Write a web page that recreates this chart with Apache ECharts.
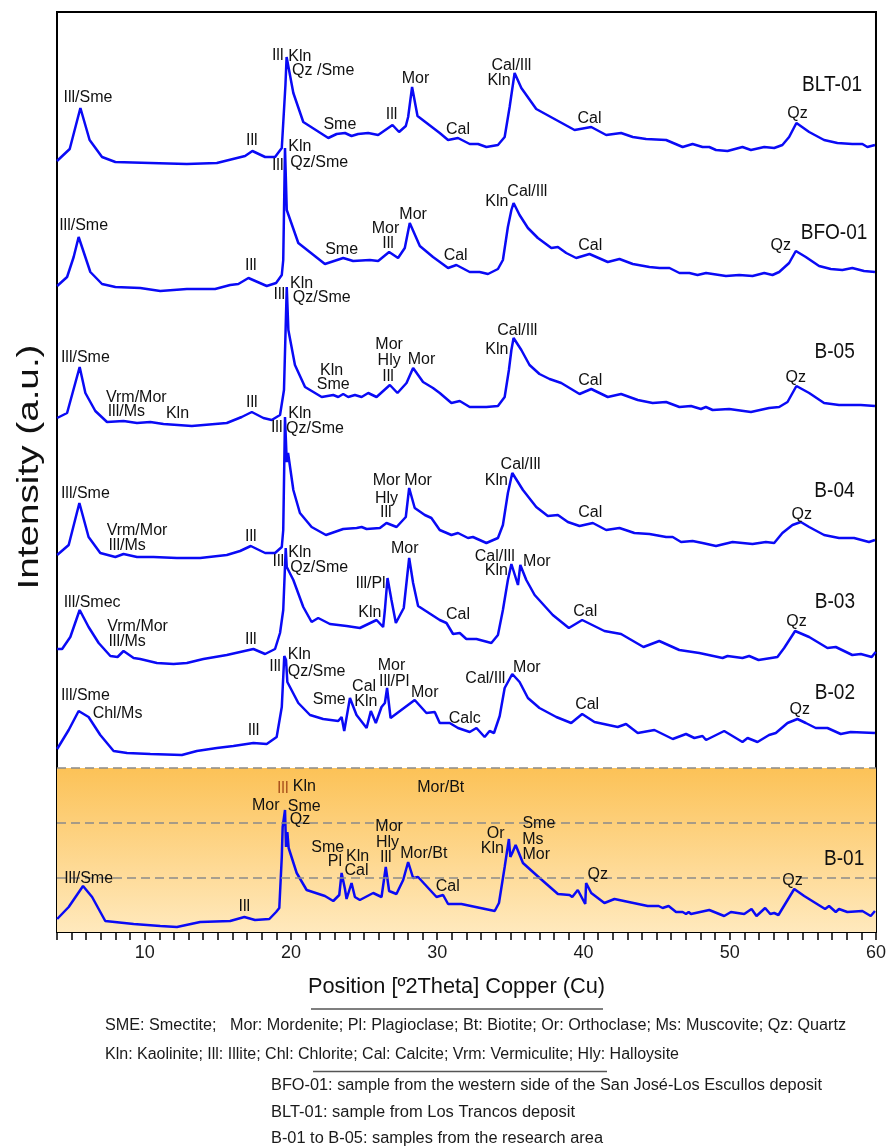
<!DOCTYPE html>
<html><head><meta charset="utf-8">
<script src="https://cdn.jsdelivr.net/npm/echarts@6/dist/echarts.min.js"></script>
<style>html,body{margin:0;padding:0;background:#fff}#c{width:889px;height:1148px}</style>
</head><body><div id="c"></div>
<script>
// ---- data: [2theta, relative intensity] ----
const samples = ['BLT-01','BFO-01','B-05','B-04','B-03','B-02','B-01'];
const offsets = [767, 641, 506, 373, 268, 176, 5];

const BLT01 = [[4.0,4],[4.87,16],[5.6,57],[6.23,25],[7.08,8],[7.99,3],[10.38,2],[12.88,1],[14.93,2],[16.86,9],[17.36,14],[18.23,8],[18.91,8],[19.37,17],[19.47,17],[19.62,80],[19.7,108],[20.16,72],[20.84,43],[22.55,27],[23.12,31],[23.69,32],[24.14,29],[24.59,31],[25.28,32],[25.96,30],[26.94,40],[27.39,33],[27.85,39],[28.01,48],[28.28,78],[28.65,49],[30.17,32],[30.74,25],[31.42,27],[32.22,21],[32.79,21],[33.36,18],[34.15,20],[34.61,28],[34.95,58],[35.29,92],[35.75,77],[36.77,56],[38.14,45],[39.39,35],[40.53,38],[41.55,30],[42.57,32],[43.37,28],[44.28,26],[45.65,25],[46.78,18],[47.46,21],[48.14,18],[48.6,18],[49.06,15],[49.85,14],[50.87,18],[51.45,15],[52.36,18],[53.04,17],[53.6,20],[54.06,28],[54.56,42],[55.43,33],[56.45,25],[57.36,22],[58.38,21],[59.07,21],[59.41,18],[59.93,20]];

const BFO01 = [[4.01,5],[4.69,14],[5.14,34],[5.48,54],[6.28,19],[7.08,7],[7.99,4],[9.69,3],[11.06,0],[12.88,2],[14.81,2],[15.84,6],[16.4,7],[17.09,13],[18.34,5],[18.98,8],[19.37,16],[19.47,31],[19.59,143],[19.71,81],[20.5,48],[22.32,27],[23.57,33],[24.25,30],[25.39,31],[25.96,30],[26.71,39],[27.32,33],[27.78,43],[28.12,68],[28.81,45],[29.71,34],[30.74,23],[31.31,26],[32.22,19],[32.9,19],[33.47,17],[34.15,22],[34.49,31],[34.83,64],[35.07,81],[35.22,88],[35.63,76],[36.2,63],[36.88,53],[37.8,43],[38.25,44],[38.82,38],[39.5,33],[40.41,37],[41.66,29],[42.46,32],[43.37,27],[44.51,24],[45.2,23],[45.88,23],[46.56,18],[47.24,18],[47.8,16],[48.38,18],[49.74,15],[50.65,16],[51.56,15],[52.36,18],[52.92,16],[53.38,19],[54.06,28],[54.52,40],[55.2,34],[56.11,25],[56.91,22],[57.7,21],[58.38,23],[59.18,20],[59.93,19]];

const B05 = [[4.01,8],[4.69,13],[5.55,59],[5.94,33],[6.62,15],[7.42,4],[8.55,5],[9.47,3],[10.38,4],[11.28,2],[13.22,0],[15.61,3],[16.63,9],[17.32,14],[18.11,8],[18.68,6],[19.25,11],[19.52,36],[19.71,139],[19.82,96],[20.27,61],[20.96,39],[22.1,29],[22.89,31],[23.23,29],[23.57,32],[23.91,29],[24.37,31],[24.83,29],[25.28,33],[25.85,29],[26.76,41],[27.28,33],[27.9,43],[28.35,58],[29.03,44],[29.71,38],[30.17,33],[30.97,23],[31.54,25],[32.22,19],[33.36,19],[34.15,20],[34.61,29],[34.9,56],[35.07,76],[35.22,88],[35.75,76],[36.31,61],[36.99,52],[37.68,47],[38.48,43],[39.73,32],[40.53,37],[41.66,29],[42.57,32],[43.71,26],[44.73,23],[45.65,24],[46.56,19],[47.35,20],[48.03,17],[48.37,19],[48.83,16],[49.96,17],[51.45,14],[52.69,18],[53.38,19],[53.95,24],[54.56,40],[55.43,33],[56.45,23],[57.47,21],[58.96,21],[59.93,20]];

const B04 = [[4.01,4],[4.8,14],[5.53,56],[6.16,22],[6.96,6],[7.99,2],[8.55,5],[9.47,2],[10.6,2],[12.2,1],[13.79,1],[15.61,4],[16.52,8],[17.25,13],[18.23,6],[18.91,6],[19.37,12],[19.47,29],[19.59,142],[19.64,142],[19.71,97],[19.8,106],[20.16,69],[20.61,46],[21.41,32],[22.39,24],[23.57,30],[24.49,31],[24.83,32],[25.17,30],[26.08,31],[26.53,36],[27.22,32],[27.85,42],[28.08,71],[28.46,51],[29.15,44],[29.6,41],[30.17,29],[30.97,24],[31.42,26],[32.1,21],[32.44,22],[33.36,16],[34.15,21],[34.49,34],[34.83,66],[35.13,86],[35.86,69],[36.77,52],[37.56,43],[38.25,44],[38.93,37],[39.73,33],[40.64,36],[41.55,29],[42.46,31],[43.48,26],[44.51,25],[45.65,22],[46.1,22],[46.67,17],[47.46,18],[48.14,16],[49.06,13],[50.19,17],[51.56,15],[52.47,17],[53.04,16],[53.6,26],[54.29,34],[54.86,37],[55.43,32],[56.45,24],[57.47,21],[58.5,21],[59.52,17],[59.93,19]];

const B03 = [[4.01,15],[4.35,15],[4.91,27],[5.55,54],[6.16,37],[6.85,21],[7.65,8],[8.14,7],[8.55,13],[9.24,6],[9.69,5],[10.83,1],[11.97,0],[12.88,1],[14.01,5],[15.61,9],[17.43,15],[18.23,10],[18.91,15],[19.25,31],[19.47,54],[19.64,116],[19.71,97],[20.16,84],[20.84,57],[21.41,42],[21.86,46],[22.66,40],[23.8,38],[24.71,36],[25.85,44],[26.3,37],[26.42,54],[26.6,86],[26.87,64],[27.17,41],[27.71,56],[28.08,106],[28.35,81],[28.69,58],[30.17,44],[30.63,41],[31.08,30],[31.54,31],[31.99,25],[32.68,25],[33.7,21],[34.15,29],[34.49,54],[34.83,84],[35.07,100],[35.52,79],[35.68,99],[36.09,84],[36.66,69],[37.9,49],[39.0,36],[39.91,44],[41.43,33],[42.57,30],[44.1,17],[45.18,23],[46.55,14],[47.92,11],[49.51,6],[49.85,8],[50.87,6],[51.33,8],[51.97,4],[53.26,7],[53.72,16],[54.47,33],[55.43,27],[56.68,16],[57.25,17],[58.38,9],[58.96,10],[59.71,7],[59.98,12]];

const B02 = [[4.01,7],[4.8,26],[5.48,45],[6.16,39],[6.96,21],[7.87,5],[8.79,3],[10.38,2],[12.54,1],[13.56,5],[14.93,8],[16.06,10],[17.43,13],[18.34,12],[19.02,19],[19.37,49],[19.54,100],[19.66,96],[19.75,74],[20.5,53],[21.3,41],[22.2,37],[23.23,35],[23.46,39],[23.64,25],[24.03,58],[24.48,41],[25.17,28],[25.46,45],[25.8,33],[26.19,49],[26.42,53],[26.57,68],[26.81,38],[28.46,56],[29.26,43],[29.83,44],[30.17,33],[30.85,33],[31.42,28],[32.22,24],[32.68,28],[33.24,19],[33.58,25],[33.88,23],[34.27,40],[34.61,68],[35.13,82],[35.63,74],[36.2,58],[36.99,48],[38.14,39],[39.16,33],[39.91,42],[40.75,34],[42.34,29],[42.91,32],[43.71,23],[44.85,26],[46.1,17],[47.01,22],[47.58,18],[48.14,20],[48.38,16],[49.62,25],[50.87,14],[51.22,18],[51.9,14],[52.69,21],[53.15,23],[53.95,33],[54.63,37],[55.2,33],[55.88,28],[56.68,28],[57.59,22],[58.27,24],[59.93,23]];

const B01 = [[4.01,8],[4.8,20],[5.78,41],[6.4,30],[7.3,6],[9.24,3],[11.06,1],[12.2,0],[13.79,5],[15.84,6],[16.81,10],[17.54,7],[18.52,8],[18.98,15],[19.2,19],[19.37,70],[19.43,100],[19.59,117],[19.66,80],[19.75,95],[19.84,79],[20.39,54],[21.07,37],[22.32,31],[22.89,26],[23.3,32],[23.46,54],[23.69,38],[23.8,28],[24.14,44],[24.37,30],[24.71,27],[25.62,34],[26.19,30],[26.48,60],[26.71,36],[27.21,33],[27.67,47],[28.01,65],[28.35,49],[28.69,50],[29.95,30],[30.4,32],[30.74,23],[31.65,23],[33.93,16],[34.22,24],[34.61,60],[34.9,88],[35.0,70],[35.13,74],[35.36,82],[35.86,64],[37.0,49],[38.25,33],[39.05,32],[39.23,30],[39.61,37],[40.12,23],[40.18,44],[40.53,34],[41.43,24],[42.12,28],[44.39,21],[45.14,21],[45.41,19],[45.82,21],[46.33,15],[46.78,15],[47.01,13],[47.19,15],[47.35,13],[48.6,17],[49.62,11],[50.08,15],[50.99,13],[51.49,18],[51.83,11],[52.42,19],[52.77,13],[53.04,14],[53.33,12],[54.41,38],[55.09,31],[56.52,18],[56.79,21],[57.25,15],[57.47,18],[58.04,15],[59.07,16],[59.64,11],[59.93,16]];

// ---- peak annotations: [2theta, relative height, text] ----
const BLT01_labels = [[6.12,67.7,'Ill/Sme'],[19.09,109.3,'Ill'],[20.61,108.3,'Kln'],[22.2,94,'Qz /Sme'],[23.34,40,'Sme'],[26.87,50,'Ill'],[28.51,86,'Mor'],[17.32,24.3,'Ill'],[31.42,35.7,'Cal'],[35.07,99.3,'Cal/Ill'],[34.22,84.3,'Kln'],[40.41,46,'Cal'],[54.63,51.7,'Qz']];
const BFO01_labels = [[5.82,65,'Ill/Sme'],[20.61,144.3,'Kln'],[21.93,128.7,'Qz/Sme'],[19.09,125.3,'Ill'],[23.46,41.7,'Sme'],[26.46,62,'Mor'],[26.64,47.7,'Ill'],[28.35,76.7,'Mor'],[17.25,25,'Ill'],[31.26,35,'Cal'],[34.08,89.3,'Kln'],[36.16,99.3,'Cal/Ill'],[40.46,45.3,'Cal'],[53.49,45.3,'Qz']];
const B05_labels = [[5.94,68.3,'Ill/Sme'],[9.42,28.7,'Vrm/Mor'],[8.74,14.3,'Ill/Ms'],[12.24,12,'Kln'],[17.32,23.7,'Ill'],[19.2,131,'Ill'],[20.73,142,'Kln'],[22.1,128.3,'Qz/Sme'],[22.78,55.3,'Kln'],[22.89,41.7,'Sme'],[26.71,81,'Mor'],[26.71,65,'Hly'],[26.64,49.3,'Ill'],[28.92,66.7,'Mor'],[35.47,95.3,'Cal/Ill'],[34.08,76,'Kln'],[40.46,45.3,'Cal'],[54.52,48.7,'Qz']];
const B04_labels = [[5.94,65.7,'Ill/Sme'],[9.47,28.3,'Vrm/Mor'],[8.79,13.3,'Ill/Ms'],[17.25,22.3,'Ill'],[19.02,131.3,'Ill'],[20.61,145,'Kln'],[21.64,130.7,'Qz/Sme'],[26.53,78.3,'Mor'],[26.53,60.7,'Hly'],[26.48,46.3,'Ill'],[28.69,78.3,'Mor'],[35.7,94,'Cal/Ill'],[34.04,78.3,'Kln'],[40.46,46.3,'Cal'],[54.93,44,'Qz']];
const B03_labels = [[6.4,61.7,'Ill/Smec'],[9.51,37.3,'Vrm/Mor'],[8.79,22.3,'Ill/Ms'],[17.25,24.7,'Ill'],[19.13,102.3,'Ill'],[20.61,111.3,'Kln'],[21.93,96.7,'Qz/Sme'],[25.44,80,'Ill/Pl'],[25.39,51.3,'Kln'],[27.78,115.7,'Mor'],[31.42,49,'Cal'],[33.93,107.3,'Cal/Ill'],[34.04,93,'Kln'],[36.81,102.3,'Mor'],[40.12,52.3,'Cal'],[54.56,42.3,'Qz']];
const B02_labels = [[5.94,60,'Ill/Sme'],[8.14,42,'Chl/Ms'],[17.43,25,'Ill'],[18.91,89.3,'Ill'],[20.57,101,'Kln'],[21.75,84.3,'Qz/Sme'],[22.61,56.7,'Sme'],[25.0,69.3,'Cal'],[25.12,54.3,'Kln'],[26.87,90,'Mor'],[27.05,74.3,'Ill/Pl'],[29.15,63.3,'Mor'],[31.88,37,'Calc'],[33.29,77,'Cal/Ill'],[36.13,88.3,'Mor'],[40.25,51,'Cal'],[54.79,46,'Qz']];
const B01_labels = [[6.16,48.7,'Ill/Sme'],[16.81,20.3,'Ill'],[20.91,140.3,'Kln'],[18.27,121.3,'Mor'],[20.91,120.3,'Sme'],[20.61,107.7,'Qz'],[22.51,79.7,'Sme'],[23.0,65.3,'Pl'],[24.55,70.3,'Kln'],[24.48,56,'Cal'],[26.71,100.3,'Mor'],[26.6,84.3,'Hly'],[26.48,69.3,'Ill'],[29.08,73,'Mor/Bt'],[30.24,139,'Mor/Bt'],[30.72,40,'Cal'],[33.99,93,'Or'],[33.77,78.7,'Kln'],[36.95,103,'Sme'],[36.54,87,'Ms'],[36.77,72,'Mor'],[40.98,52.7,'Qz'],[54.29,46.3,'Qz']];
const B01_brownLabels = [[19.43,138.7,'Ill']];

// sample name positions [2theta, relative height]
const sampleNamePos = [[57.0,80],[57.13,58],[57.17,74],[57.16,68],[57.19,62],[57.19,63],[57.82,68]];

// highlighted B-01 zone and dashed guides (intensity units)
const zoneTop = 164;
const dashLevels = [164, 109, 54];

const xTicks = [10,20,30,40,50,60];
const footnotes = [
  'SME: Smectite;   Mor: Mordenite; Pl: Plagioclase; Bt: Biotite; Or: Orthoclase; Ms: Muscovite; Qz: Quartz',
  'Kln: Kaolinite; Ill: Illite; Chl: Chlorite; Cal: Calcite; Vrm: Vermiculite; Hly: Halloysite',
  'BFO-01: sample from the western side of the San José-Los Escullos deposit',
  'BLT-01: sample from Los Trancos deposit',
  'B-01 to B-05: samples from the research area'
];

const curves = [BLT01, BFO01, B05, B04, B03, B02, B01];
const labelSets = [BLT01_labels, BFO01_labels, B05_labels, B04_labels, B03_labels, B02_labels, B01_labels];

// ---- chart ----
const FONT = '"Liberation Sans", Arial, sans-serif';
const chart = echarts.init(document.getElementById('c'), null, {renderer: 'canvas'});
const series = [];

series.push({
  type: 'line', data: [[4, 0]], symbol: 'none', z: 1, silent: true,
  lineStyle: {width: 0},
  markArea: {
    silent: true,
    itemStyle: {color: new echarts.graphic.LinearGradient(0, 0, 0, 1, [
      {offset: 0, color: '#FCC257'}, {offset: 1, color: '#FFE9BD'}])},
    data: [[{yAxis: 0}, {yAxis: zoneTop}]]
  },
  markLine: {
    silent: true, symbol: 'none', label: {show: false},
    lineStyle: {type: [9, 5], color: '#8a8a8a', width: 1.6},
    data: dashLevels.map(v => ({yAxis: v}))
  }
});

curves.forEach((c, i) => {
  series.push({
    type: 'line', name: samples[i], z: 3,
    data: c.map(p => [p[0], p[1] + offsets[i]]),
    symbol: 'none', smooth: false,
    lineStyle: {color: '#0A0AF5', width: 2.5},
    animation: false
  });
});

function labelSeries(set, off, color) {
  return {
    type: 'scatter', z: 5, silent: true,
    symbolSize: 1, itemStyle: {color: 'rgba(0,0,0,0)'},
    data: set.map(l => [l[0], l[1] + off, l[2]]),
    encode: {x: 0, y: 1},
    label: {show: true, position: 'inside', formatter: p => p.value[2],
      color: color, fontSize: 16, fontFamily: FONT,
      textBorderWidth: 0, textBorderColor: 'transparent', opacity: 1},
    labelLayout: {hideOverlap: false},
    animation: false
  };
}
labelSets.forEach((s, i) => series.push(labelSeries(s, offsets[i], '#111111')));
series.push(labelSeries(B01_brownLabels, offsets[6], '#A9501C'));

chart.setOption({
  animation: false,
  backgroundColor: '#ffffff',
  grid: {left: 57, right: 12, top: 12, bottom: 216, show: true,
    borderColor: '#000', borderWidth: 2, backgroundColor: 'rgba(0,0,0,0)'},
  xAxis: {
    type: 'value', min: 4, max: 60, interval: 1,
    axisLine: {show: true, lineStyle: {color: '#000', width: 2}},
    axisTick: {show: true, length: 8, lineStyle: {color: '#000', width: 1.5}},
    axisLabel: {show: true, margin: 12, fontSize: 18, color: '#1a1a1a', fontFamily: FONT,
      formatter: v => (xTicks.indexOf(v) >= 0 ? String(v) : '')},
    splitLine: {show: false}
  },
  yAxis: {
    type: 'value', min: 0, max: 920,
    axisLine: {show: false}, axisTick: {show: false},
    axisLabel: {show: false}, splitLine: {show: false}
  },
  series: series
});

// ---- text graphics ----
const mctx = document.createElement('canvas').getContext('2d');
function measure(t, size) { mctx.font = size + 'px ' + FONT; return mctx.measureText(t).width; }

const graphics = [];
const nameScale = 60 / measure('BLT-01', 22);
samples.forEach((s, i) => {
  const p = chart.convertToPixel({gridIndex: 0}, [sampleNamePos[i][0], sampleNamePos[i][1] + offsets[i]]);
  graphics.push({type: 'text', x: p[0], y: p[1], scaleX: nameScale, z: 10,
    style: {text: s, fontSize: 22, fontFamily: FONT, fill: '#111',
      align: 'center', verticalAlign: 'middle', textAlign: 'center', textVerticalAlign: 'middle'}});
});

// y-axis title (rotated)
const yName = 'Intensity (a.u.)';
graphics.push({type: 'text', x: 30, y: 467, rotation: Math.PI / 2,
  scaleX: 245 / measure(yName, 30), z: 10,
  style: {text: yName, fontSize: 30, fontFamily: FONT, fill: '#111',
    align: 'center', verticalAlign: 'middle', textAlign: 'center', textVerticalAlign: 'middle'}});

// x-axis title
const xName = 'Position [º2Theta] Copper (Cu)';
graphics.push({type: 'text', x: 456.5, y: 987, scaleX: 297 / measure(xName, 22), z: 10,
  style: {text: xName, fontSize: 22, fontFamily: FONT, fill: '#111',
    align: 'center', verticalAlign: 'middle', textAlign: 'center', textVerticalAlign: 'middle'}});

graphics.push({type: 'line', shape: {x1: 311, y1: 1009, x2: 603, y2: 1009}, style: {stroke: '#555', lineWidth: 1.5}});
graphics.push({type: 'line', shape: {x1: 313, y1: 1071.5, x2: 607, y2: 1071.5}, style: {stroke: '#555', lineWidth: 1.5}});

const fnLayout = [[105, 846, 1026], [105, 679, 1055], [271, 822, 1086], [271, 575, 1113], [271, 603, 1139]];
footnotes.forEach((t, i) => {
  const L = fnLayout[i];
  graphics.push({type: 'text', x: L[0], y: L[2], scaleX: (L[1] - L[0]) / measure(t, 16), z: 10,
    style: {text: t, fontSize: 16, fontFamily: FONT, fill: '#1a1a1a',
      align: 'left', verticalAlign: 'middle', textAlign: 'left', textVerticalAlign: 'middle'}});
});

chart.setOption({graphic: graphics});
</script>
</body></html>
